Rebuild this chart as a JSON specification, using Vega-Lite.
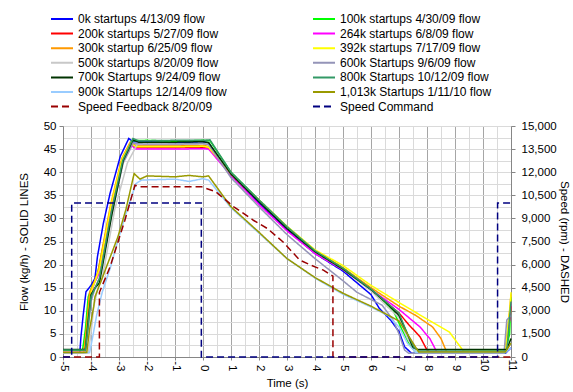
{
  "$schema": "https://vega.github.io/schema/vega-lite/v6.json",
  "width": 448,
  "height": 231,
  "autosize": "none",
  "padding": {"left": 63, "top": 126, "right": 62, "bottom": 35},
  "background": "white",
  "config": {
    "font": "Liberation Sans",
    "view": {"stroke": null},
    "axis": {"labelFontSize": 11.5, "labelColor": "black", "titleFontSize": 11.5, "titleFontWeight": "normal", "titleColor": "black", "domainColor": "#868686", "tickColor": "#868686"}
  },
  "datasets": {
    "flow": [
      {"s":"0k startups 4/13/09 flow","t":-5,"v":1.0},{"s":"0k startups 4/13/09 flow","t":-4.4,"v":1.0},{"s":"0k startups 4/13/09 flow","t":-4.36,"v":4.3},{"s":"0k startups 4/13/09 flow","t":-4.28,"v":9},{"s":"0k startups 4/13/09 flow","t":-4.18,"v":14.1},{"s":"0k startups 4/13/09 flow","t":-4.0,"v":15.5},{"s":"0k startups 4/13/09 flow","t":-3.86,"v":17},{"s":"0k startups 4/13/09 flow","t":-3.77,"v":21.7},{"s":"0k startups 4/13/09 flow","t":-3.56,"v":28.9},{"s":"0k startups 4/13/09 flow","t":-3.32,"v":35.4},{"s":"0k startups 4/13/09 flow","t":-2.95,"v":43.5},{"s":"0k startups 4/13/09 flow","t":-2.65,"v":47.3},{"s":"0k startups 4/13/09 flow","t":-2.5,"v":46.6},{"s":"0k startups 4/13/09 flow","t":-2,"v":46.6},{"s":"0k startups 4/13/09 flow","t":-1,"v":46.4},{"s":"0k startups 4/13/09 flow","t":0,"v":46.6},{"s":"0k startups 4/13/09 flow","t":0.2,"v":46.4},{"s":"0k startups 4/13/09 flow","t":1,"v":39.3},{"s":"0k startups 4/13/09 flow","t":2,"v":33.3},{"s":"0k startups 4/13/09 flow","t":3,"v":27.5},{"s":"0k startups 4/13/09 flow","t":4,"v":22.4},{"s":"0k startups 4/13/09 flow","t":5,"v":18.6},{"s":"0k startups 4/13/09 flow","t":6,"v":13.5},{"s":"0k startups 4/13/09 flow","t":6.3,"v":10.5},{"s":"0k startups 4/13/09 flow","t":6.7,"v":8},{"s":"0k startups 4/13/09 flow","t":7.0,"v":5.5},{"s":"0k startups 4/13/09 flow","t":7.2,"v":2.2},{"s":"0k startups 4/13/09 flow","t":7.45,"v":0.8},{"s":"0k startups 4/13/09 flow","t":10.8,"v":0.8},{"s":"0k startups 4/13/09 flow","t":11,"v":2},
      {"s":"100k startups 4/30/09 flow","t":-5,"v":1.5},{"s":"100k startups 4/30/09 flow","t":-4.3,"v":1.5},{"s":"100k startups 4/30/09 flow","t":-4.2,"v":6},{"s":"100k startups 4/30/09 flow","t":-4.1,"v":13},{"s":"100k startups 4/30/09 flow","t":-3.95,"v":15.5},{"s":"100k startups 4/30/09 flow","t":-3.8,"v":17},{"s":"100k startups 4/30/09 flow","t":-3.3,"v":32},{"s":"100k startups 4/30/09 flow","t":-2.9,"v":42},{"s":"100k startups 4/30/09 flow","t":-2.55,"v":46.8},{"s":"100k startups 4/30/09 flow","t":-2,"v":46.9},{"s":"100k startups 4/30/09 flow","t":-1,"v":46.7},{"s":"100k startups 4/30/09 flow","t":0,"v":46.9},{"s":"100k startups 4/30/09 flow","t":0.25,"v":46.8},{"s":"100k startups 4/30/09 flow","t":1,"v":40},{"s":"100k startups 4/30/09 flow","t":2,"v":34},{"s":"100k startups 4/30/09 flow","t":3,"v":28.2},{"s":"100k startups 4/30/09 flow","t":4,"v":23},{"s":"100k startups 4/30/09 flow","t":5,"v":19.3},{"s":"100k startups 4/30/09 flow","t":6,"v":14.8},{"s":"100k startups 4/30/09 flow","t":6.8,"v":10},{"s":"100k startups 4/30/09 flow","t":7.1,"v":6},{"s":"100k startups 4/30/09 flow","t":7.35,"v":3},{"s":"100k startups 4/30/09 flow","t":7.6,"v":1.0},{"s":"100k startups 4/30/09 flow","t":10.8,"v":1.0},{"s":"100k startups 4/30/09 flow","t":10.95,"v":5},{"s":"100k startups 4/30/09 flow","t":11,"v":13},
      {"s":"200k startups 5/27/09 flow","t":-5,"v":1.0},{"s":"200k startups 5/27/09 flow","t":-4.25,"v":1.0},{"s":"200k startups 5/27/09 flow","t":-4.15,"v":6},{"s":"200k startups 5/27/09 flow","t":-4.05,"v":13},{"s":"200k startups 5/27/09 flow","t":-3.9,"v":16},{"s":"200k startups 5/27/09 flow","t":-3.75,"v":18},{"s":"200k startups 5/27/09 flow","t":-3.3,"v":32},{"s":"200k startups 5/27/09 flow","t":-2.9,"v":42.5},{"s":"200k startups 5/27/09 flow","t":-2.6,"v":46},{"s":"200k startups 5/27/09 flow","t":-2.4,"v":45.3},{"s":"200k startups 5/27/09 flow","t":-1,"v":45.3},{"s":"200k startups 5/27/09 flow","t":0,"v":45.4},{"s":"200k startups 5/27/09 flow","t":0.2,"v":45.2},{"s":"200k startups 5/27/09 flow","t":1,"v":39.6},{"s":"200k startups 5/27/09 flow","t":2,"v":33.8},{"s":"200k startups 5/27/09 flow","t":3,"v":28},{"s":"200k startups 5/27/09 flow","t":4,"v":23},{"s":"200k startups 5/27/09 flow","t":5,"v":19.2},{"s":"200k startups 5/27/09 flow","t":6,"v":14.6},{"s":"200k startups 5/27/09 flow","t":7,"v":9.5},{"s":"200k startups 5/27/09 flow","t":7.35,"v":7},{"s":"200k startups 5/27/09 flow","t":7.75,"v":4.4},{"s":"200k startups 5/27/09 flow","t":8.0,"v":1.5},{"s":"200k startups 5/27/09 flow","t":8.1,"v":1.1},{"s":"200k startups 5/27/09 flow","t":10.8,"v":1.1},{"s":"200k startups 5/27/09 flow","t":10.97,"v":9},{"s":"200k startups 5/27/09 flow","t":11,"v":11},
      {"s":"264k startups 6/8/09 flow","t":-5,"v":1.0},{"s":"264k startups 6/8/09 flow","t":-4.22,"v":1.0},{"s":"264k startups 6/8/09 flow","t":-4.12,"v":6},{"s":"264k startups 6/8/09 flow","t":-4.02,"v":13},{"s":"264k startups 6/8/09 flow","t":-3.88,"v":16},{"s":"264k startups 6/8/09 flow","t":-3.72,"v":18},{"s":"264k startups 6/8/09 flow","t":-3.28,"v":32},{"s":"264k startups 6/8/09 flow","t":-2.88,"v":42.5},{"s":"264k startups 6/8/09 flow","t":-2.55,"v":45.8},{"s":"264k startups 6/8/09 flow","t":-2.4,"v":45},{"s":"264k startups 6/8/09 flow","t":-1,"v":45},{"s":"264k startups 6/8/09 flow","t":0,"v":45.1},{"s":"264k startups 6/8/09 flow","t":0.2,"v":45},{"s":"264k startups 6/8/09 flow","t":1,"v":39.3},{"s":"264k startups 6/8/09 flow","t":2,"v":33},{"s":"264k startups 6/8/09 flow","t":3,"v":27.3},{"s":"264k startups 6/8/09 flow","t":4,"v":22.4},{"s":"264k startups 6/8/09 flow","t":5,"v":18.9},{"s":"264k startups 6/8/09 flow","t":6,"v":14.6},{"s":"264k startups 6/8/09 flow","t":7,"v":10.3},{"s":"264k startups 6/8/09 flow","t":7.75,"v":6.5},{"s":"264k startups 6/8/09 flow","t":8.1,"v":4},{"s":"264k startups 6/8/09 flow","t":8.35,"v":1.1},{"s":"264k startups 6/8/09 flow","t":10.8,"v":1.1},{"s":"264k startups 6/8/09 flow","t":10.95,"v":8},{"s":"264k startups 6/8/09 flow","t":11,"v":12},
      {"s":"300k startup 6/25/09 flow","t":-5,"v":1},{"s":"300k startup 6/25/09 flow","t":-4.25,"v":1},{"s":"300k startup 6/25/09 flow","t":-4.15,"v":7},{"s":"300k startup 6/25/09 flow","t":-4.05,"v":14},{"s":"300k startup 6/25/09 flow","t":-3.9,"v":16},{"s":"300k startup 6/25/09 flow","t":-3.75,"v":18.5},{"s":"300k startup 6/25/09 flow","t":-3.3,"v":33},{"s":"300k startup 6/25/09 flow","t":-2.9,"v":43},{"s":"300k startup 6/25/09 flow","t":-2.6,"v":46.5},{"s":"300k startup 6/25/09 flow","t":-2.4,"v":45.8},{"s":"300k startup 6/25/09 flow","t":-1,"v":45.7},{"s":"300k startup 6/25/09 flow","t":0,"v":45.8},{"s":"300k startup 6/25/09 flow","t":0.2,"v":45.6},{"s":"300k startup 6/25/09 flow","t":1,"v":39.6},{"s":"300k startup 6/25/09 flow","t":2,"v":33.8},{"s":"300k startup 6/25/09 flow","t":3,"v":28},{"s":"300k startup 6/25/09 flow","t":4,"v":23},{"s":"300k startup 6/25/09 flow","t":5,"v":19.3},{"s":"300k startup 6/25/09 flow","t":6,"v":15},{"s":"300k startup 6/25/09 flow","t":7,"v":11},{"s":"300k startup 6/25/09 flow","t":7.6,"v":9},{"s":"300k startup 6/25/09 flow","t":8.2,"v":6.5},{"s":"300k startup 6/25/09 flow","t":8.5,"v":4},{"s":"300k startup 6/25/09 flow","t":8.7,"v":1.1},{"s":"300k startup 6/25/09 flow","t":10.8,"v":1.1},{"s":"300k startup 6/25/09 flow","t":10.95,"v":10},{"s":"300k startup 6/25/09 flow","t":11,"v":13.5},
      {"s":"392k startups 7/17/09 flow","t":-5,"v":1},{"s":"392k startups 7/17/09 flow","t":-4.2,"v":1},{"s":"392k startups 7/17/09 flow","t":-4.1,"v":8},{"s":"392k startups 7/17/09 flow","t":-4.0,"v":14},{"s":"392k startups 7/17/09 flow","t":-3.85,"v":16.5},{"s":"392k startups 7/17/09 flow","t":-3.7,"v":19},{"s":"392k startups 7/17/09 flow","t":-3.28,"v":33},{"s":"392k startups 7/17/09 flow","t":-2.88,"v":43},{"s":"392k startups 7/17/09 flow","t":-2.58,"v":46.3},{"s":"392k startups 7/17/09 flow","t":-2.4,"v":45.5},{"s":"392k startups 7/17/09 flow","t":-1,"v":45.5},{"s":"392k startups 7/17/09 flow","t":0,"v":45.6},{"s":"392k startups 7/17/09 flow","t":0.2,"v":45.4},{"s":"392k startups 7/17/09 flow","t":1,"v":39.7},{"s":"392k startups 7/17/09 flow","t":2,"v":34},{"s":"392k startups 7/17/09 flow","t":3,"v":28.3},{"s":"392k startups 7/17/09 flow","t":4,"v":23.2},{"s":"392k startups 7/17/09 flow","t":5,"v":19.8},{"s":"392k startups 7/17/09 flow","t":6,"v":15.5},{"s":"392k startups 7/17/09 flow","t":7,"v":11.8},{"s":"392k startups 7/17/09 flow","t":8,"v":8.2},{"s":"392k startups 7/17/09 flow","t":8.8,"v":5.4},{"s":"392k startups 7/17/09 flow","t":9.3,"v":1.3},{"s":"392k startups 7/17/09 flow","t":10.8,"v":1.3},{"s":"392k startups 7/17/09 flow","t":10.97,"v":11},{"s":"392k startups 7/17/09 flow","t":11,"v":14},
      {"s":"500k startups 8/20/09 flow","t":-5,"v":0.9},{"s":"500k startups 8/20/09 flow","t":-4.1,"v":0.9},{"s":"500k startups 8/20/09 flow","t":-4.0,"v":5},{"s":"500k startups 8/20/09 flow","t":-3.9,"v":11},{"s":"500k startups 8/20/09 flow","t":-3.75,"v":15},{"s":"500k startups 8/20/09 flow","t":-3.6,"v":17},{"s":"500k startups 8/20/09 flow","t":-3.15,"v":32},{"s":"500k startups 8/20/09 flow","t":-2.7,"v":42},{"s":"500k startups 8/20/09 flow","t":-2.35,"v":46},{"s":"500k startups 8/20/09 flow","t":-2,"v":46},{"s":"500k startups 8/20/09 flow","t":-1,"v":46},{"s":"500k startups 8/20/09 flow","t":0,"v":46.1},{"s":"500k startups 8/20/09 flow","t":0.2,"v":46},{"s":"500k startups 8/20/09 flow","t":1,"v":39.7},{"s":"500k startups 8/20/09 flow","t":2,"v":33.8},{"s":"500k startups 8/20/09 flow","t":3,"v":28},{"s":"500k startups 8/20/09 flow","t":4,"v":22.8},{"s":"500k startups 8/20/09 flow","t":5,"v":19},{"s":"500k startups 8/20/09 flow","t":6,"v":14.3},{"s":"500k startups 8/20/09 flow","t":7,"v":8.5},{"s":"500k startups 8/20/09 flow","t":7.3,"v":4},{"s":"500k startups 8/20/09 flow","t":7.6,"v":1.0},{"s":"500k startups 8/20/09 flow","t":10.8,"v":1.0},{"s":"500k startups 8/20/09 flow","t":11,"v":3},
      {"s":"600k Startups 9/6/09 flow","t":-5,"v":1},{"s":"600k Startups 9/6/09 flow","t":-4.2,"v":1},{"s":"600k Startups 9/6/09 flow","t":-4.1,"v":6},{"s":"600k Startups 9/6/09 flow","t":-4.0,"v":12},{"s":"600k Startups 9/6/09 flow","t":-3.85,"v":15},{"s":"600k Startups 9/6/09 flow","t":-3.7,"v":17},{"s":"600k Startups 9/6/09 flow","t":-3.25,"v":31},{"s":"600k Startups 9/6/09 flow","t":-2.85,"v":42},{"s":"600k Startups 9/6/09 flow","t":-2.5,"v":46.2},{"s":"600k Startups 9/6/09 flow","t":-2,"v":46.1},{"s":"600k Startups 9/6/09 flow","t":-1,"v":46.1},{"s":"600k Startups 9/6/09 flow","t":0,"v":46.2},{"s":"600k Startups 9/6/09 flow","t":0.2,"v":46},{"s":"600k Startups 9/6/09 flow","t":1,"v":38.8},{"s":"600k Startups 9/6/09 flow","t":2,"v":32.5},{"s":"600k Startups 9/6/09 flow","t":3,"v":26.5},{"s":"600k Startups 9/6/09 flow","t":4,"v":21.3},{"s":"600k Startups 9/6/09 flow","t":5,"v":16.5},{"s":"600k Startups 9/6/09 flow","t":5.5,"v":14},{"s":"600k Startups 9/6/09 flow","t":6.4,"v":11.2},{"s":"600k Startups 9/6/09 flow","t":6.8,"v":7.9},{"s":"600k Startups 9/6/09 flow","t":7.0,"v":5},{"s":"600k Startups 9/6/09 flow","t":7.2,"v":1.5},{"s":"600k Startups 9/6/09 flow","t":7.35,"v":0.8},{"s":"600k Startups 9/6/09 flow","t":10.75,"v":0.8},{"s":"600k Startups 9/6/09 flow","t":10.85,"v":8},{"s":"600k Startups 9/6/09 flow","t":11,"v":9},
      {"s":"700k Startups 9/24/09 flow","t":-5,"v":1.6},{"s":"700k Startups 9/24/09 flow","t":-4.2,"v":1.6},{"s":"700k Startups 9/24/09 flow","t":-4.1,"v":8},{"s":"700k Startups 9/24/09 flow","t":-4.0,"v":13.5},{"s":"700k Startups 9/24/09 flow","t":-3.85,"v":15},{"s":"700k Startups 9/24/09 flow","t":-3.7,"v":16},{"s":"700k Startups 9/24/09 flow","t":-3.25,"v":31},{"s":"700k Startups 9/24/09 flow","t":-2.85,"v":42.5},{"s":"700k Startups 9/24/09 flow","t":-2.5,"v":47},{"s":"700k Startups 9/24/09 flow","t":-2.3,"v":46.5},{"s":"700k Startups 9/24/09 flow","t":-1,"v":46.5},{"s":"700k Startups 9/24/09 flow","t":0,"v":46.6},{"s":"700k Startups 9/24/09 flow","t":0.2,"v":46.4},{"s":"700k Startups 9/24/09 flow","t":1,"v":39.6},{"s":"700k Startups 9/24/09 flow","t":2,"v":33.6},{"s":"700k Startups 9/24/09 flow","t":3,"v":27.8},{"s":"700k Startups 9/24/09 flow","t":4,"v":22.8},{"s":"700k Startups 9/24/09 flow","t":5,"v":19},{"s":"700k Startups 9/24/09 flow","t":6,"v":14.6},{"s":"700k Startups 9/24/09 flow","t":6.5,"v":12},{"s":"700k Startups 9/24/09 flow","t":7,"v":9},{"s":"700k Startups 9/24/09 flow","t":7.3,"v":5},{"s":"700k Startups 9/24/09 flow","t":7.5,"v":2},{"s":"700k Startups 9/24/09 flow","t":7.7,"v":1.6},{"s":"700k Startups 9/24/09 flow","t":10.85,"v":1.6},{"s":"700k Startups 9/24/09 flow","t":11,"v":4},
      {"s":"800k Startups 10/12/09 flow","t":-5,"v":1.5},{"s":"800k Startups 10/12/09 flow","t":-4.2,"v":1.5},{"s":"800k Startups 10/12/09 flow","t":-4.1,"v":7},{"s":"800k Startups 10/12/09 flow","t":-4.0,"v":13},{"s":"800k Startups 10/12/09 flow","t":-3.85,"v":15},{"s":"800k Startups 10/12/09 flow","t":-3.7,"v":17},{"s":"800k Startups 10/12/09 flow","t":-3.27,"v":31.5},{"s":"800k Startups 10/12/09 flow","t":-2.87,"v":42.5},{"s":"800k Startups 10/12/09 flow","t":-2.5,"v":47.3},{"s":"800k Startups 10/12/09 flow","t":-2.3,"v":46.8},{"s":"800k Startups 10/12/09 flow","t":-1,"v":46.9},{"s":"800k Startups 10/12/09 flow","t":0,"v":46.9},{"s":"800k Startups 10/12/09 flow","t":0.25,"v":47},{"s":"800k Startups 10/12/09 flow","t":1,"v":40},{"s":"800k Startups 10/12/09 flow","t":2,"v":34},{"s":"800k Startups 10/12/09 flow","t":3,"v":28.2},{"s":"800k Startups 10/12/09 flow","t":4,"v":23},{"s":"800k Startups 10/12/09 flow","t":5,"v":19.2},{"s":"800k Startups 10/12/09 flow","t":6,"v":14.7},{"s":"800k Startups 10/12/09 flow","t":7,"v":9.5},{"s":"800k Startups 10/12/09 flow","t":7.3,"v":5},{"s":"800k Startups 10/12/09 flow","t":7.55,"v":2},{"s":"800k Startups 10/12/09 flow","t":7.7,"v":1.3},{"s":"800k Startups 10/12/09 flow","t":10.85,"v":1.3},{"s":"800k Startups 10/12/09 flow","t":11,"v":12},
      {"s":"900k Startups 12/14/09 flow","t":-5,"v":0.9},{"s":"900k Startups 12/14/09 flow","t":-4.05,"v":0.9},{"s":"900k Startups 12/14/09 flow","t":-3.95,"v":4},{"s":"900k Startups 12/14/09 flow","t":-3.8,"v":9},{"s":"900k Startups 12/14/09 flow","t":-3.6,"v":14},{"s":"900k Startups 12/14/09 flow","t":-3.3,"v":19.5},{"s":"900k Startups 12/14/09 flow","t":-3.05,"v":25},{"s":"900k Startups 12/14/09 flow","t":-2.7,"v":32},{"s":"900k Startups 12/14/09 flow","t":-2.4,"v":37.5},{"s":"900k Startups 12/14/09 flow","t":-2.2,"v":38.3},{"s":"900k Startups 12/14/09 flow","t":-1,"v":38.5},{"s":"900k Startups 12/14/09 flow","t":-0.5,"v":38},{"s":"900k Startups 12/14/09 flow","t":0,"v":38.6},{"s":"900k Startups 12/14/09 flow","t":0.2,"v":38.3},{"s":"900k Startups 12/14/09 flow","t":1,"v":32.3},{"s":"900k Startups 12/14/09 flow","t":2,"v":26.8},{"s":"900k Startups 12/14/09 flow","t":3,"v":21.3},{"s":"900k Startups 12/14/09 flow","t":4,"v":17.1},{"s":"900k Startups 12/14/09 flow","t":5,"v":13.6},{"s":"900k Startups 12/14/09 flow","t":6,"v":10.8},{"s":"900k Startups 12/14/09 flow","t":6.6,"v":9},{"s":"900k Startups 12/14/09 flow","t":7,"v":6.5},{"s":"900k Startups 12/14/09 flow","t":7.3,"v":3},{"s":"900k Startups 12/14/09 flow","t":7.6,"v":1.0},{"s":"900k Startups 12/14/09 flow","t":10.8,"v":1.0},{"s":"900k Startups 12/14/09 flow","t":11,"v":2},
      {"s":"1,013k Startups 1/11/10 flow","t":-5,"v":1},{"s":"1,013k Startups 1/11/10 flow","t":-4.15,"v":1},{"s":"1,013k Startups 1/11/10 flow","t":-4.05,"v":6},{"s":"1,013k Startups 1/11/10 flow","t":-3.9,"v":11},{"s":"1,013k Startups 1/11/10 flow","t":-3.86,"v":13},{"s":"1,013k Startups 1/11/10 flow","t":-3.63,"v":16.6},{"s":"1,013k Startups 1/11/10 flow","t":-3.04,"v":26},{"s":"1,013k Startups 1/11/10 flow","t":-2.75,"v":32},{"s":"1,013k Startups 1/11/10 flow","t":-2.46,"v":39.7},{"s":"1,013k Startups 1/11/10 flow","t":-2.25,"v":38.5},{"s":"1,013k Startups 1/11/10 flow","t":-2,"v":39.2},{"s":"1,013k Startups 1/11/10 flow","t":-1,"v":39},{"s":"1,013k Startups 1/11/10 flow","t":-0.5,"v":39.3},{"s":"1,013k Startups 1/11/10 flow","t":0,"v":39},{"s":"1,013k Startups 1/11/10 flow","t":0.2,"v":39.2},{"s":"1,013k Startups 1/11/10 flow","t":1,"v":32.5},{"s":"1,013k Startups 1/11/10 flow","t":2,"v":27},{"s":"1,013k Startups 1/11/10 flow","t":3,"v":21.3},{"s":"1,013k Startups 1/11/10 flow","t":4,"v":17.2},{"s":"1,013k Startups 1/11/10 flow","t":5,"v":13.8},{"s":"1,013k Startups 1/11/10 flow","t":6,"v":11},{"s":"1,013k Startups 1/11/10 flow","t":7,"v":7.8},{"s":"1,013k Startups 1/11/10 flow","t":7.4,"v":4},{"s":"1,013k Startups 1/11/10 flow","t":7.7,"v":1.1},{"s":"1,013k Startups 1/11/10 flow","t":10.8,"v":1.1},{"s":"1,013k Startups 1/11/10 flow","t":11,"v":3}
    ],
    "speed": [
      {"s":"Speed Feedback 8/20/09","t":-5,"v":0},{"s":"Speed Feedback 8/20/09","t":-3.7,"v":0},{"s":"Speed Feedback 8/20/09","t":-3.699,"v":4200},{"s":"Speed Feedback 8/20/09","t":-3.32,"v":5850},{"s":"Speed Feedback 8/20/09","t":-2.79,"v":8880},{"s":"Speed Feedback 8/20/09","t":-2.43,"v":11160},{"s":"Speed Feedback 8/20/09","t":-2.25,"v":11050},{"s":"Speed Feedback 8/20/09","t":-0.05,"v":11050},{"s":"Speed Feedback 8/20/09","t":0.45,"v":10740},{"s":"Speed Feedback 8/20/09","t":1.1,"v":9750},{"s":"Speed Feedback 8/20/09","t":1.8,"v":8880},{"s":"Speed Feedback 8/20/09","t":2.3,"v":8340},{"s":"Speed Feedback 8/20/09","t":2.86,"v":7470},{"s":"Speed Feedback 8/20/09","t":3.45,"v":6300},{"s":"Speed Feedback 8/20/09","t":4,"v":5850},{"s":"Speed Feedback 8/20/09","t":4.3,"v":5640},{"s":"Speed Feedback 8/20/09","t":4.64,"v":5250},{"s":"Speed Feedback 8/20/09","t":4.641,"v":0},{"s":"Speed Feedback 8/20/09","t":11,"v":0},
      {"s":"Speed Command","t":-5,"v":0},{"s":"Speed Command","t":-4.69,"v":0},{"s":"Speed Command","t":-4.689,"v":10000},{"s":"Speed Command","t":-0.06,"v":10000},{"s":"Speed Command","t":-0.059,"v":0},{"s":"Speed Command","t":10.52,"v":0},{"s":"Speed Command","t":10.521,"v":10000},{"s":"Speed Command","t":11,"v":10000}
    ]
  },
  "encoding": {
    "x": {
      "field": "t", "type": "quantitative",
      "scale": {"domain": [-5, 11], "nice": false, "zero": false},
      "axis": {
        "title": "Time (s)",
        "values": [-5,-4.5,-4,-3.5,-3,-2.5,-2,-1.5,-1,-0.5,0,0.5,1,1.5,2,2.5,3,3.5,4,4.5,5,5.5,6,6.5,7,7.5,8,8.5,9,9.5,10,10.5,11],
        "labelExpr": "datum.value % 1 == 0 ? toString(datum.value) : ''",
        "labelAngle": 90, "labelAlign": "right", "labelBaseline": "middle",
        "labelPadding": 11, "tickSize": 3, "titlePadding": 6,
        "labelFlush": false, "labelOverlap": false,
        "gridColor": {"condition": {"test": "datum.value % 1 == 0", "value": "#A6A6A6"}, "value": "#DADADA"},
        "tickColor": {"condition": {"test": "datum.value % 1 == 0", "value": "#868686"}, "value": "transparent"}
      }
    }
  },
  "layer": [
    {
      "data": {"name": "flow"},
      "mark": {"type": "line", "strokeWidth": 1.5},
      "encoding": {
        "y": {
          "field": "v", "type": "quantitative",
          "scale": {"domain": [0, 50], "nice": false},
          "axis": {
            "title": "Flow (kg/h) - SOLID LINES",
            "values": [0,2.5,5,7.5,10,12.5,15,17.5,20,22.5,25,27.5,30,32.5,35,37.5,40,42.5,45,47.5,50],
            "labelExpr": "datum.value % 5 == 0 ? toString(datum.value) : ''",
            "labelPadding": 3, "tickSize": 4, "titlePadding": 14,
            "labelOverlap": false, "labelFlush": false,
            "gridColor": "#DADADA",
            "tickColor": {"condition": {"test": "datum.value % 5 == 0", "value": "#868686"}, "value": "transparent"}
          }
        },
        "color": {
          "field": "s", "type": "nominal",
          "scale": {
            "domain": ["0k startups 4/13/09 flow","100k startups 4/30/09 flow","200k startups 5/27/09 flow","264k startups 6/8/09 flow","300k startup 6/25/09 flow","392k startups 7/17/09 flow","500k startups 8/20/09 flow","600k Startups 9/6/09 flow","700k Startups 9/24/09 flow","800k Startups 10/12/09 flow","900k Startups 12/14/09 flow","1,013k Startups 1/11/10 flow","Speed Feedback 8/20/09","Speed Command"],
            "range": ["#0000FF","#00FF00","#FF0000","#FF00FF","#FF9900","#FFFF00","#C8C8C8","#9494B8","#003300","#339966","#99CCFF","#999900","#990000","#000080"]
          },
          "legend": {"title": null, "orient": "none", "direction": "horizontal", "legendX": -13, "legendY": -114, "columns": 2, "columnPadding": 85, "rowPadding": 0.6, "clipHeight": 14, "symbolType": "stroke", "symbolSize": 484, "symbolStrokeWidth": 2, "labelFontSize": 12, "labelColor": "black", "labelOffset": 4, "labelLimit": 300, "padding": 0, "symbolOffset": 0}
        },
        "strokeDash": {
          "field": "s", "type": "nominal",
          "scale": {
            "domain": ["0k startups 4/13/09 flow","100k startups 4/30/09 flow","200k startups 5/27/09 flow","264k startups 6/8/09 flow","300k startup 6/25/09 flow","392k startups 7/17/09 flow","500k startups 8/20/09 flow","600k Startups 9/6/09 flow","700k Startups 9/24/09 flow","800k Startups 10/12/09 flow","900k Startups 12/14/09 flow","1,013k Startups 1/11/10 flow","Speed Feedback 8/20/09","Speed Command"],
            "range": [[1,0],[1,0],[1,0],[1,0],[1,0],[1,0],[1,0],[1,0],[1,0],[1,0],[1,0],[1,0],[7,4],[7,4]]
          },
          "legend": {"title": null, "orient": "none", "direction": "horizontal", "legendX": -13, "legendY": -114, "columns": 2, "columnPadding": 85, "rowPadding": 0.6, "clipHeight": 14, "symbolType": "stroke", "symbolSize": 484, "symbolStrokeWidth": 2, "labelFontSize": 12, "labelColor": "black", "labelOffset": 4, "labelLimit": 300, "padding": 0, "symbolOffset": 0}
        }
      }
    },
    {
      "data": {"name": "speed"},
      "mark": {"type": "line", "strokeWidth": 1.5},
      "encoding": {
        "y": {
          "field": "v", "type": "quantitative",
          "scale": {"domain": [0, 15000], "nice": false},
          "axis": {
            "orient": "right",
            "title": "Speed (rpm) - DASHED",
            "values": [0,1500,3000,4500,6000,7500,9000,10500,12000,13500,15000],
            "labelExpr": "format(datum.value, ',')", "grid": false,
            "labelPadding": 6, "tickSize": 4, "titlePadding": 2,
            "labelOverlap": false, "labelFlush": false
          }
        },
        "color": {"field": "s", "type": "nominal"},
        "strokeDash": {"field": "s", "type": "nominal"}
      }
    }
  ],
  "resolve": {"scale": {"y": "independent"}}
}
